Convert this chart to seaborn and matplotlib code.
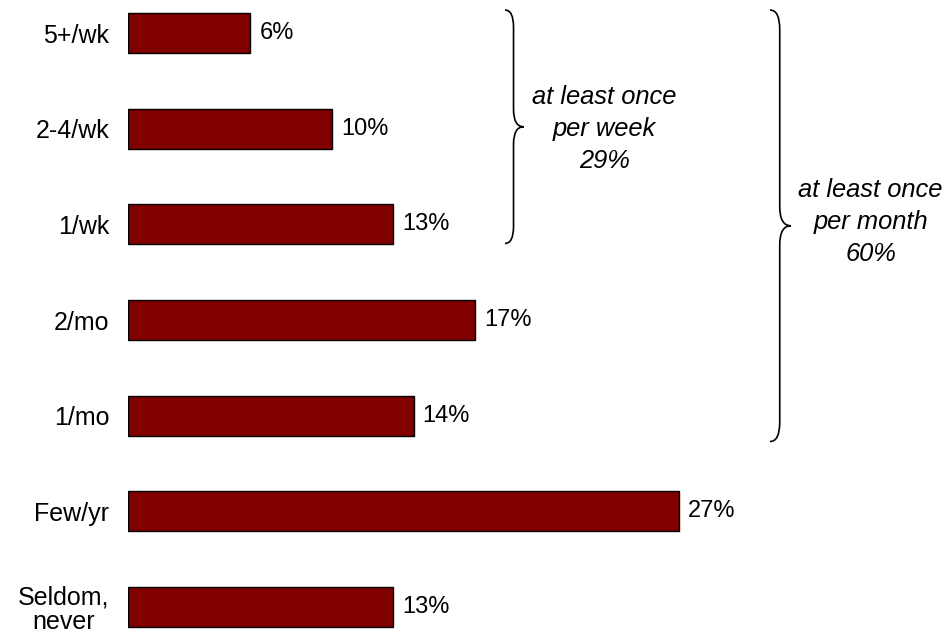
import matplotlib
matplotlib.use("Agg")
import matplotlib.pyplot as plt
from matplotlib.path import Path
from matplotlib.patches import PathPatch
import seaborn as sns
import pandas as pd

categories = ["5+/wk", "2-4/wk", "1/wk", "2/mo", "1/mo", "Few/yr", "Seldom,\nnever"]
values = [6, 10, 13, 17, 14, 27, 13]
group_texts = ["at least once\nper week\n29%", "at least once\nper month\n60%"]

sns.set_theme(style="white")
plt.rcParams["font.family"] = ["Liberation Sans", "DejaVu Sans"]
plt.rcParams["text.color"] = "black"
plt.rcParams["ytick.color"] = "black"
plt.rcParams["ytick.labelcolor"] = "black"

df = pd.DataFrame({"cat": categories, "val": values})

fig = plt.figure(figsize=(9.47, 6.34), dpi=100)
ax = fig.add_axes([128 / 947, 0, 1 - 128 / 947, 1])

sns.barplot(data=df, x="val", y="cat", orient="h", color="#800000",
            saturation=1, edgecolor="black", linewidth=1.0, width=0.42, ax=ax)

ax.bar_label(ax.containers[0], labels=[f"{v}%" for v in values],
             padding=6.5, fontsize=17, color="black")

ax.set_xlim(0, 40.15)
ax.set_ylim(6.282, -0.345)
for s in ax.spines.values():
    s.set_visible(False)
ax.set_xticks([])
ax.set_xlabel("")
ax.set_ylabel("")
ax.tick_params(axis="y", length=0, pad=13.5, labelsize=18, labelcolor="black")
for lbl in ax.get_yticklabels():
    lbl.set_multialignment("center")
    lbl.set_linespacing(1.05)


def brace(ax, x_end, x_line, x_tip, y0, y1, r):
    ym = (y0 + y1) / 2
    verts = [
        (x_end, y0), (x_line, y0), (x_line, y0 + r),
        (x_line, ym - r),
        (x_line, ym), (x_tip, ym),
        (x_line, ym), (x_line, ym + r),
        (x_line, y1 - r),
        (x_line, y1), (x_end, y1),
    ]
    codes = [Path.MOVETO, Path.CURVE3, Path.CURVE3,
             Path.LINETO,
             Path.CURVE3, Path.CURVE3,
             Path.CURVE3, Path.CURVE3,
             Path.LINETO,
             Path.CURVE3, Path.CURVE3]
    ax.add_patch(PathPatch(Path(verts, codes), fill=False, edgecolor="black",
                           linewidth=1.2, clip_on=False))


brace(ax, 18.48, 18.9, 19.4, -0.24, 2.2, 0.18)
brace(ax, 31.47, 31.95, 32.5, -0.24, 4.27, 0.2)

ax.text(23.35, 1.0, group_texts[0], ha="center", va="center", fontsize=18.4,
        style="italic", linespacing=1.42, color="black")
ax.text(36.4, 1.975, group_texts[1], ha="center", va="center", fontsize=18.4,
        style="italic", linespacing=1.42, color="black")

fig.savefig("out.png", dpi=100, facecolor="white")
